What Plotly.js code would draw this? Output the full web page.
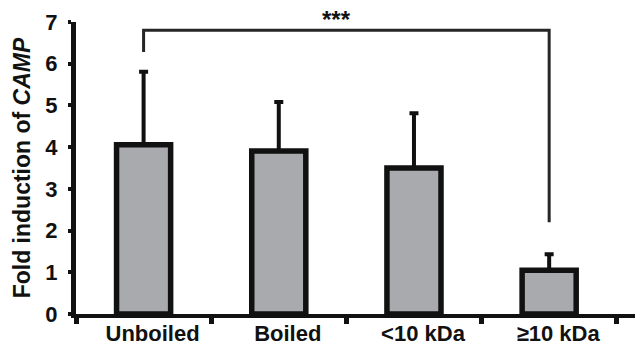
<!DOCTYPE html>
<html>
<head>
<meta charset="utf-8">
<script src="https://cdn.plot.ly/plotly-3.0.1.min.js"></script>
<style>html,body{margin:0;padding:0;background:#fff;}#chart{width:635px;height:347px;}</style>
</head>
<body>
<div id="chart"></div>
<script>
// Data
const categories = ["Unboiled", "Boiled", "<10 kDa", "≥10 kDa"];
const foldInduction = [4.06, 3.91, 3.50, 1.05];
const errorUpper = [1.75, 1.17, 1.31, 0.38];
const errorLower = [0, 0, 0, 0];
const yTickValues = [0, 1, 2, 3, 4, 5, 6, 7];
// Significance bracket between Unboiled and ≥10 kDa
const bracketX = ["Unboiled", "Unboiled", "≥10 kDa", "≥10 kDa"];
const bracketY = [6.28, 6.8, 6.8, 2.2];
const significanceLabel = "***";

const ink = "#111111";
const fontFam = "Liberation Sans, Arial, sans-serif";

const bars = {
  type: "bar",
  x: categories,
  y: foldInduction,
  width: 0.4,
  marker: { color: "#A8AAAD", line: { color: ink, width: 5.5 } },
  error_y: {
    type: "data", symmetric: false,
    array: errorUpper, arrayminus: errorLower,
    color: ink, thickness: 4, width: 4.5
  },
  hoverinfo: "skip",
  showlegend: false
};

const bracket = {
  type: "scatter",
  mode: "lines",
  x: bracketX,
  y: bracketY,
  line: { color: "#262626", width: 3 },
  cliponaxis: false,
  hoverinfo: "skip",
  showlegend: false
};

const layout = {
  width: 635,
  height: 347,
  margin: { l: 76, r: 0, t: 22, b: 33, pad: 0 },
  paper_bgcolor: "#fff",
  plot_bgcolor: "#fff",
  font: { family: fontFam, color: ink },
  xaxis: {
    type: "category",
    categoryorder: "array",
    categoryarray: categories,
    range: [-0.5, 3.635],
    tickson: "boundaries",
    ticks: "outside",
    ticklen: 6,
    tickwidth: 5,
    tickcolor: ink,
    showline: true,
    linecolor: ink,
    linewidth: 4,
    showgrid: false,
    zeroline: false,
    ticklabelshift: 9,
    ticklabelstandoff: -3,
    tickfont: { family: fontFam, size: 22, color: ink, weight: "bold" },
    fixedrange: true
  },
  yaxis: {
    range: [0, 7],
    tickmode: "array",
    tickvals: yTickValues,
    ticktext: yTickValues.map(String),
    ticks: "outside",
    ticklen: 3,
    tickwidth: 4,
    tickcolor: ink,
    showline: true,
    linecolor: ink,
    linewidth: 5,
    showgrid: false,
    zeroline: false,
    ticklabelstandoff: 6,
    tickfont: { family: fontFam, size: 22, color: ink, weight: "bold" },
    title: {
      text: "Fold induction of <i>CAMP</i>",
      font: { family: fontFam, size: 23, color: ink, weight: "bold" },
      standoff: 10
    },
    automargin: false,
    fixedrange: true
  },
  annotations: [{
    x: 1.43, y: 6.8, xref: "x", yref: "y",
    text: significanceLabel,
    showarrow: false,
    yanchor: "bottom",
    yshift: -5,
    font: { family: fontFam, size: 24, color: ink, weight: "bold" }
  }]
};

Plotly.newPlot("chart", [bars, bracket], layout, { displayModeBar: false, staticPlot: true });
</script>
</body>
</html>
